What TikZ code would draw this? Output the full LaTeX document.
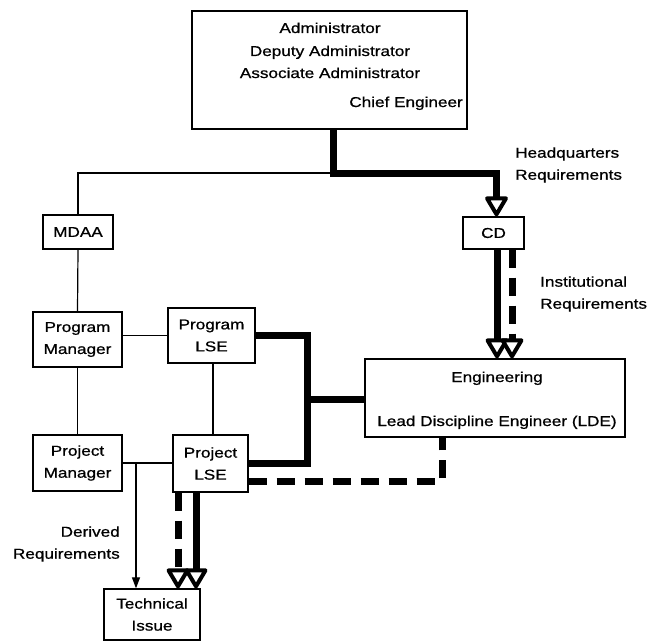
\documentclass[tikz,border=0pt]{standalone}
\usepackage{fontspec}
\setmainfont{Liberation Sans}[FakeStretch=1.2,FakeBold=0.8]
\usetikzlibrary{arrows.meta,calc}
\newcommand\dfont{\fontsize{14.3}{22}\selectfont}
\tikzset{
  box/.style={draw, line width=1.3pt, inner sep=0pt, align=center, font=\dfont},
  txt/.style={inner sep=0pt, font=\dfont},
  thinline/.style={line width=1.2pt},
  heavy/.style={line width=7pt},
  heavydash/.style={line width=7pt, dash pattern=on 18pt off 10pt},
  tipshort/.style={shorten >=16pt},
  smallarrow/.style={-{Triangle[length=11pt,width=8pt]}},
  tri/.pic={\draw[line width=4pt, fill=white, line join=round, solid] (-9.5,-18) -- (9.5,-18) -- (0,-2) -- cycle;}
}
\begin{document}
\begin{tikzpicture}[x=1pt,y=-1pt]
\useasboundingbox (0,0) rectangle (648,642);
% boxes
\node[box, minimum width=275pt, minimum height=118pt] (top) at (329.5,70) {};
\node[txt, anchor=base] (t1) at (330,33) {Administrator};
\node[txt, anchor=base] (t2) at (330,56) {Deputy Administrator};
\node[txt, anchor=base] (t3) at (330,78) {Associate Administrator};
\node[txt, anchor=base east] (t4) at (463,107) {Chief Engineer};

\node[box, minimum width=70pt, minimum height=34pt] (mdaa) at (78,232) {MDAA};
\node[box, minimum width=61pt, minimum height=32pt] (cd) at (493.5,233) {CD};
\node[box, minimum width=89pt, minimum height=55pt] (pgm) at (77.5,339.5) {Program\\Manager};
\node[box, minimum width=87pt, minimum height=55pt] (plse) at (211.5,335.5) {Program\\LSE};
\node[box, minimum width=89pt, minimum height=56pt] (pjm) at (77.5,463) {Project\\Manager};
\node[box, minimum width=75pt, minimum height=57pt] (pjlse) at (210.5,463.5) {Project\\LSE};
\node[box, minimum width=96pt, minimum height=51pt] (ti) at (152,614.5) {Technical\\Issue};
\node[box, minimum width=260pt, minimum height=78pt] (eng) at (495,398) {};
\node[txt, anchor=base] (e1) at (497,382) {Engineering};
\node[txt, anchor=base] (e2) at (497,426) {Lead Discipline Engineer (LDE)};

% labels
\node[txt, anchor=west, align=left] (hq) at (515,165) {Headquarters\\Requirements};
\node[txt, anchor=west, align=left] (inst) at (540,294) {Institutional\\Requirements};
\node[txt, anchor=east, align=right] (der) at (120,544) {Derived\\Requirements};

% coordinates
\coordinate (j) at (333,173);
\coordinate (bus) at (307,399);
\coordinate (d) at (136,463);
\coordinate (a1) at ([xshift=3pt]cd.north);
\coordinate (a2) at ([xshift=3.5pt]cd.south |- eng.north);
\coordinate (a3) at ([xshift=18.5pt]cd.south |- eng.north);
\coordinate (a4) at ([xshift=-32.5pt]pjlse.south |- ti.north);
\coordinate (a5) at ([xshift=-14.5pt]pjlse.south |- ti.north);

% thin lines
\draw[thinline] (j) -| (mdaa.north);
\draw[thinline] (mdaa.south) -- (pgm.north);
\draw[thinline] (plse.west -| pgm.east) -- (plse.west);
\draw[thinline] (pgm.south) -- (pjm.north);
\draw[thinline] ([xshift=1.5pt]plse.south) -- ([xshift=1.5pt]plse.south |- pjlse.north);
\draw[thinline] (pjm.east) -- (pjm.east -| pjlse.west);
\draw[thinline, smallarrow] (d) -- (d |- ti.north);

% heavy lines
\draw[heavy, tipshort] ([xshift=3.5pt]top.south) -- (j) -| (a1);
\draw[heavy, tipshort] ([xshift=3.5pt]cd.south) -- (a2);
\draw[heavydash, tipshort] ([xshift=18.5pt]cd.south) -- (a3);
\draw[heavy] (plse.east) -| (bus |- pjlse.east) -- (pjlse.east);
\draw[heavy] (bus) -- (bus -| eng.west);
\draw[heavydash] ([yshift=-17.5pt]pjlse.east) -| ([xshift=-53pt]eng.south);
\draw[heavydash, tipshort] ([xshift=-32.5pt]pjlse.south) -- (a4);
\draw[heavy, tipshort] ([xshift=-14.5pt]pjlse.south) -- (a5);

% arrowheads
\pic at (a1) {tri};
\pic at (a2) {tri};
\pic at (a3) {tri};
\pic at (a4) {tri};
\pic at (a5) {tri};
\end{tikzpicture}
\end{document}
